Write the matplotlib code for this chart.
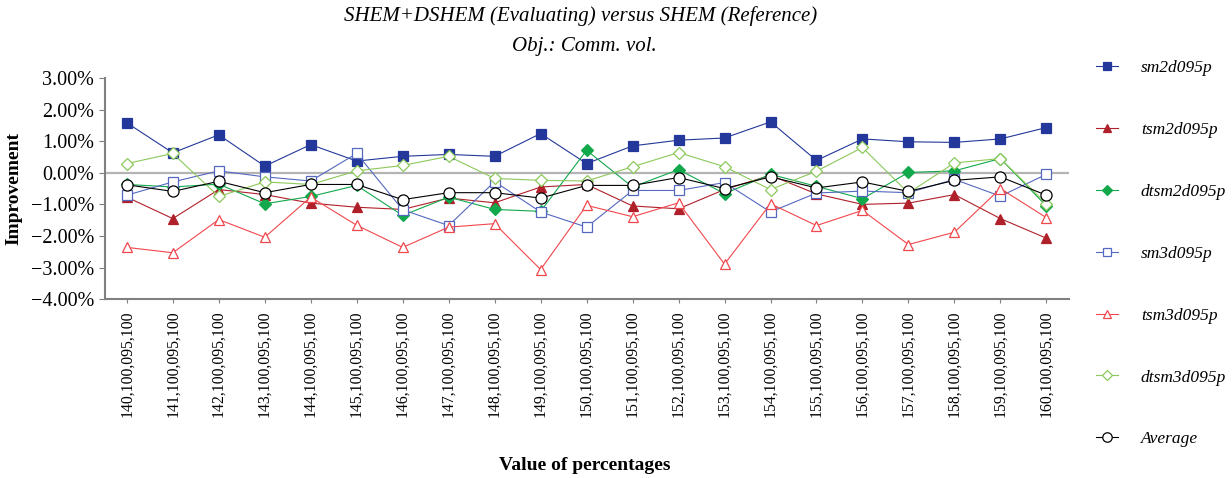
import numpy as np
import matplotlib
matplotlib.use("Agg")
import matplotlib.pyplot as plt
from matplotlib.ticker import FuncFormatter

plt.rcParams['font.family'] = ['Liberation Serif', 'DejaVu Serif']

labels = ["%d,100,095,100" % k for k in range(140, 161)]

sm2d095p = [1.58, 0.63, 1.20, 0.21, 0.89, 0.37, 0.52, 0.58, 0.52, 1.24, 0.29,
            0.85, 1.03, 1.10, 1.61, 0.39, 1.07, 0.98, 0.96, 1.07, 1.43]
tsm2d095p = [-0.77, -1.45, -0.53, -0.69, -0.96, -1.09, -1.16, -0.80, -0.95, -0.45, -0.37,
             -1.05, -1.14, -0.53, -0.08, -0.67, -1.00, -0.96, -0.69, -1.45, -2.07]
dtsm2d095p = [-0.37, -0.45, -0.36, -0.98, -0.75, -0.40, -1.35, -0.77, -1.16, -1.22, 0.71,
              -0.45, 0.10, -0.66, -0.05, -0.43, -0.82, 0.01, 0.06, 0.45, -1.05]
sm3d095p = [-0.71, -0.29, 0.06, -0.13, -0.26, 0.61, -1.17, -1.67, -0.28, -1.24, -1.72,
            -0.56, -0.56, -0.31, -1.24, -0.64, -0.58, -0.63, -0.21, -0.74, -0.05]
tsm3d095p = [-2.36, -2.53, -1.48, -2.04, -0.77, -1.66, -2.36, -1.72, -1.61, -3.06, -1.03,
             -1.39, -0.95, -2.89, -0.98, -1.67, -1.19, -2.27, -1.88, -0.50, -1.42]
dtsm3d095p = [0.29, 0.61, -0.75, -0.29, -0.37, 0.06, 0.23, 0.52, -0.18, -0.24, -0.26,
              0.19, 0.64, 0.19, -0.53, 0.05, 0.80, -0.64, 0.31, 0.45, -0.98]
average = [-0.38, -0.59, -0.27, -0.63, -0.37, -0.37, -0.85, -0.63, -0.63, -0.80, -0.40,
           -0.40, -0.15, -0.50, -0.13, -0.48, -0.29, -0.59, -0.24, -0.13, -0.71]

series = [
    ("sm2d095p", sm2d095p, "#23389a", "s", True),
    ("tsm2d095p", tsm2d095p, "#b0202a", "^", True),
    ("dtsm2d095p", dtsm2d095p, "#12a84c", "D", True),
    ("sm3d095p", sm3d095p, "#5468c0", "s", False),
    ("tsm3d095p", tsm3d095p, "#f0474c", "^", False),
    ("dtsm3d095p", dtsm3d095p, "#8cc85a", "D", False),
    ("Average", average, "black", "o", False),
]

fig = plt.figure(figsize=(12.32, 4.78), dpi=100)
ax = fig.add_axes([0.085, 0.374, 0.783, 0.463])

x = np.arange(len(labels))
ax.axhline(0, color="#b4b4b4", lw=1.6, zorder=0)
for name, vals, col, mk, filled in series:
    ms = 8 if mk == "o" else (6 if mk == "D" else 6.5)
    ax.plot(x, vals, color=col, lw=0.8, marker=mk, markersize=ms,
            markerfacecolor=col if filled else "white",
            markeredgecolor=col, markeredgewidth=0.9, label=name)

ax.set_xlim(-0.48, 20.5)
ax.set_ylim(-4, 3)
ax.set_yticks(np.arange(-4, 4, 1))
ax.yaxis.set_major_formatter(FuncFormatter(lambda v, p: ("%.2f%%" % v).replace("-", "\u2212")))
ax.set_xticks(x)
ax.set_xticklabels(labels, rotation=90, fontsize=11.3)
ax.tick_params(axis="y", labelsize=14.5, length=4, color="#808080")
ax.tick_params(axis="x", length=3, color="#808080", pad=5)
for s in ["top", "right"]:
    ax.spines[s].set_visible(False)
for s in ["left", "bottom"]:
    ax.spines[s].set_color("#808080")
    ax.spines[s].set_linewidth(1.5)

ax.set_ylabel("Improvement", fontsize=14, fontweight="bold", labelpad=6)
ax.set_xlabel("Value of percentages", fontsize=14, fontweight="bold", va="center")
ax.xaxis.set_label_coords(0.498, -0.75)
fig.text(0.471, 0.988, "SHEM+DSHEM (Evaluating) versus SHEM (Reference)",
         fontsize=15, style="italic", ha="center", va="top")
fig.text(0.474, 0.922, "Obj.: Comm. vol.", fontsize=15, style="italic",
         ha="center", va="top")

leg = ax.legend(loc="upper left", bbox_to_anchor=(1.011, 1.15), frameon=False,
                prop={"style": "italic", "size": 12.5}, labelspacing=2.63,
                handlelength=1.3, handletextpad=1.3, markerscale=0.85)

fig.savefig("out.png", dpi=100)
